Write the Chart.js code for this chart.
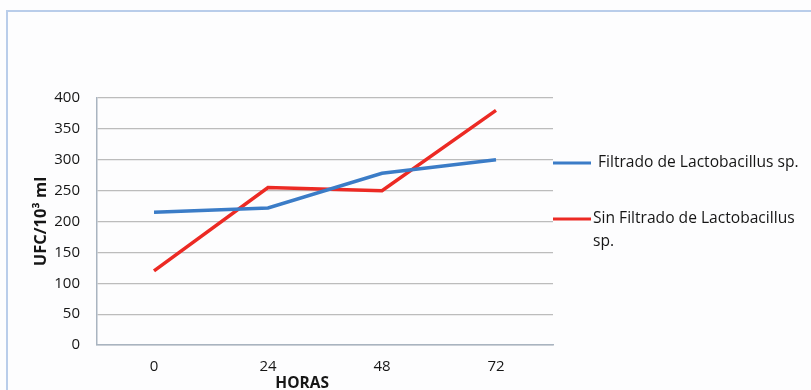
<!DOCTYPE html>
<html>
<head>
<meta charset="utf-8">
<script src="https://cdn.jsdelivr.net/npm/chart.js@4"></script>
<style>
  html, body { margin: 0; padding: 0; background: #fdfdfe; overflow: hidden; }
  #wrap { position: relative; width: 811px; height: 390px; }
  #frame { position: absolute; left: 6px; top: 10px; width: 820px; height: 400px;
           border: 2px solid #b9cdea; box-sizing: border-box; }
  canvas { position: absolute; left: 0; top: 0; }
</style>
</head>
<body>
<div id="wrap">
  <div id="frame"></div>
  <canvas id="chart" width="811" height="390"></canvas>
</div>
<script>
// data
const horas = ['0', '24', '48', '72'];
const filtrado = [215, 222, 278, 300];
const sinFiltrado = [120, 255, 250, 380];
const yTicks = [0, 50, 100, 150, 200, 250, 300, 350, 400];

const legendLines = [
  ['Filtrado de Lactobacillus sp.'],
  ['Sin Filtrado de Lactobacillus', 'sp.']
];

const fontName = '"Open Sans", Lato, sans-serif';
const textColor = '#161616';

// titles + the side legend, drawn next to the plot area
const extras = {
  id: 'extras',
  afterDraw(chart) {
    const ctx = chart.ctx;
    const area = chart.chartArea;
    ctx.save();
    ctx.fillStyle = textColor;

    // y title
    ctx.font = 'bold 16.5px ' + fontName;
    ctx.translate(41, (area.top + area.bottom) / 2);
    ctx.rotate(-Math.PI / 2);
    ctx.textAlign = 'center';
    ctx.textBaseline = 'middle';
    ctx.fillText('UFC/10³ ml', 0, 0);
    ctx.setTransform(1, 0, 0, 1, 0, 0);

    // x title
    ctx.font = 'bold 15.5px ' + fontName;
    ctx.fillText('HORAS', area.left + (area.right - area.left) * 0.45, area.bottom + 39);

    // legend
    const rows = [area.top + 65, area.top + 121];
    chart.data.datasets.forEach((ds, i) => {
      const y = rows[i];
      ctx.strokeStyle = ds.borderColor;
      ctx.lineWidth = 3;
      ctx.beginPath();
      ctx.moveTo(area.right, y);
      ctx.lineTo(area.right + 38, y);
      ctx.stroke();
      ctx.font = '15.6px ' + fontName;
      ctx.textAlign = 'left';
      ctx.textBaseline = 'middle';
      legendLines[i].forEach((line, j) => {
        ctx.fillText(line, area.right + (i === 0 ? 45 : 40), y + j * 23);
      });
    });
    ctx.restore();
  }
};

new Chart(document.getElementById('chart'), {
  type: 'line',
  data: {
    labels: horas,
    datasets: [
      {
        label: legendLines[0].join(' '),
        data: filtrado,
        borderColor: '#3b7cc7',
        borderWidth: 3.5,
        pointRadius: 0,
        tension: 0
      },
      {
        label: legendLines[1].join(' '),
        data: sinFiltrado,
        borderColor: '#ec2a24',
        borderWidth: 3.5,
        pointRadius: 0,
        tension: 0
      }
    ]
  },
  options: {
    responsive: false,
    animation: false,
    layout: { padding: { top: 98, right: 258, left: 0, bottom: 0 } },
    plugins: { legend: { display: false }, tooltip: { enabled: false } },
    scales: {
      x: {
        offset: true,
        afterFit: s => { s.height = 45; },
        grid: { display: false, drawTicks: false },
        border: { display: true, color: '#a9b4c0', width: 1.5 },
        ticks: { color: textColor, padding: 13, font: { family: fontName, size: 15 } }
      },
      y: {
        min: 0,
        max: 400,
        afterFit: s => { s.width = 97; },
        afterBuildTicks: s => { s.ticks = yTicks.map(v => ({ value: v })); },
        grid: { color: '#bcbcbc', lineWidth: 1.2, drawTicks: false },
        border: { display: true, color: '#a9b4c0', width: 1.5 },
        ticks: { color: textColor, padding: 17, font: { family: fontName, size: 15 } }
      }
    }
  },
  plugins: [extras]
});
</script>
</body>
</html>
